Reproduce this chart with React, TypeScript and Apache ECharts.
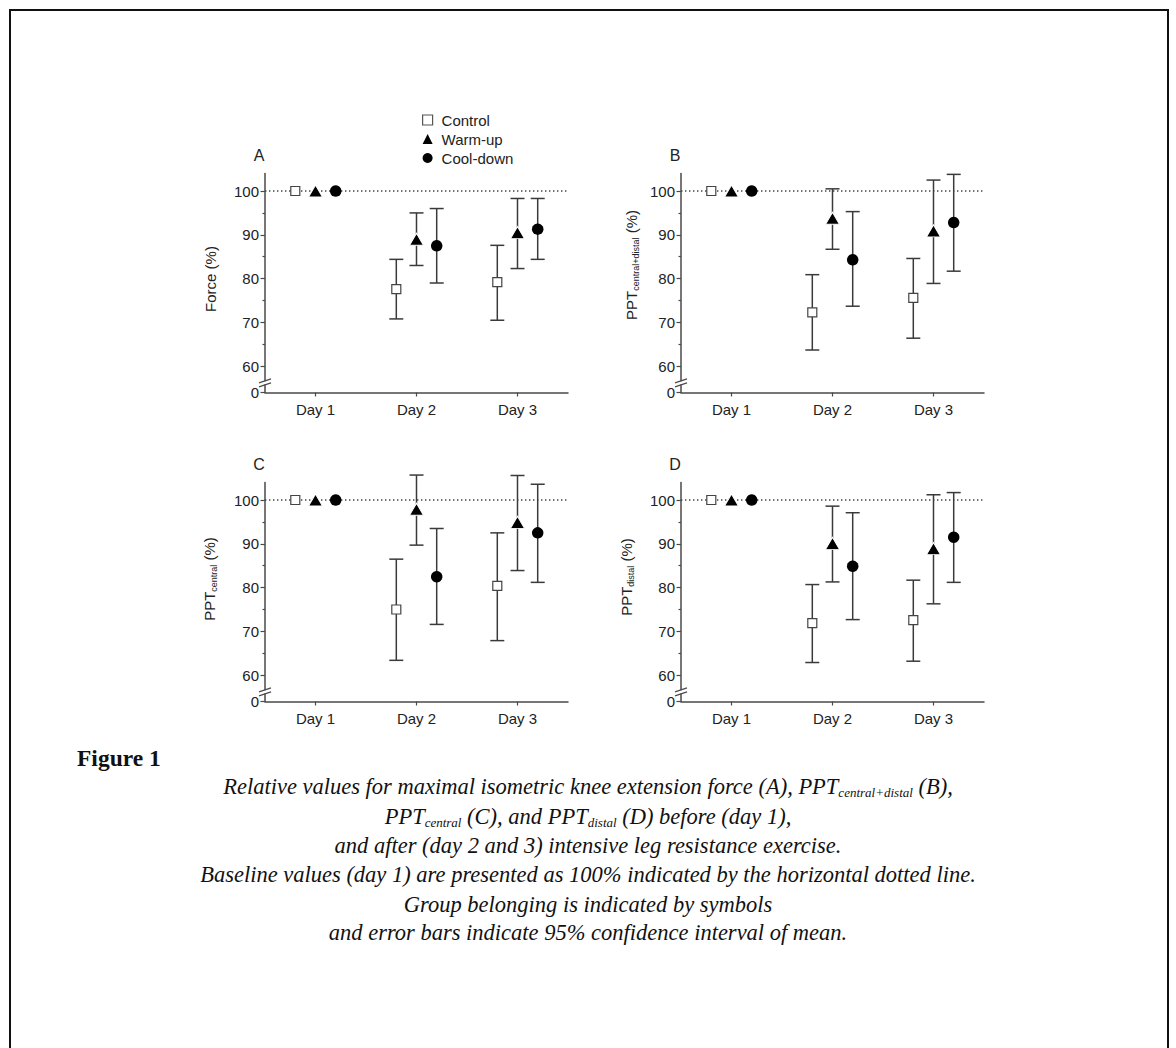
import React, { useEffect, useRef } from "react";
import * as echarts from "echarts";

const SANS = "'Liberation Sans', Arial, Helvetica, sans-serif";
const SERIF = "'Liberation Serif', 'Times New Roman', serif";

const dayLabels = ["Day 1", "Day 2", "Day 3"];
const dayValues = [1, 2, 3];
const groupNames = ["Control", "Warm-up", "Cool-down"];
const yTickValues = [60, 70, 80, 90, 100];
const yMinorTickValues = [65, 75, 85, 95];
const axisBottomValue = 54; // shown as "0" on the broken axis
const axisTopValue = 104;
const baselineValue = 100;
const breakValue = 56.2;

// Panel A – Force (%)   rows: Control, Warm-up, Cool-down ; cols: Day 1..3
const forceMean = [[100, 77.6, 79.2], [100, 89.0, 90.5], [100, 87.5, 91.3]];
const forceLow = [[null, 70.8, 70.5], [null, 83.0, 82.3], [null, 79.0, 84.4]];
const forceHigh = [[null, 84.4, 87.6], [null, 95.0, 98.3], [null, 96.0, 98.3]];

// Panel B – PPT central+distal (%)
const pptAllMean = [[100, 72.3, 75.6], [100, 93.8, 90.9], [100, 84.3, 92.8]];
const pptAllLow = [[null, 63.7, 66.4], [null, 86.7, 78.9], [null, 73.7, 81.7]];
const pptAllHigh = [[null, 80.9, 84.6], [null, 100.5, 102.5], [null, 95.3, 103.8]];

// Panel C – PPT central (%)
const pptCentralMean = [[100, 75.0, 80.4], [100, 97.9, 94.9], [100, 82.5, 92.5]];
const pptCentralLow = [[null, 63.4, 67.9], [null, 89.7, 83.9], [null, 71.6, 81.2]];
const pptCentralHigh = [[null, 86.5, 92.5], [null, 105.7, 105.6], [null, 93.5, 103.6]];

// Panel D – PPT distal (%)
const pptDistalMean = [[100, 71.9, 72.6], [100, 90.1, 88.9], [100, 84.9, 91.5]];
const pptDistalLow = [[null, 62.9, 63.2], [null, 81.3, 76.3], [null, 72.7, 81.2]];
const pptDistalHigh = [[null, 80.7, 81.7], [null, 98.6, 101.2], [null, 97.1, 101.7]];

const captionLines = [
  "{i|Relative values for maximal isometric knee extension force (A), PPT}{s|central+distal}{i| (B),}",
  "{i|PPT}{s|central}{i| (C), and PPT}{s|distal}{i| (D) before (day 1),}",
  "{i|and after (day 2 and 3) intensive leg resistance exercise.}",
  "{i|Baseline values (day 1) are presented as 100% indicated by the horizontal dotted line.}",
  "{i|Group belonging is indicated by symbols}",
  "{i|and error bars indicate 95% confidence interval of mean.}",
];

const AX = "#4a4a4a";
const TXT = "#222";

const panels = [
  { letter: "A", title: "{a|Force (%)}", left: 265, top: 173.5, mean: forceMean, low: forceLow, high: forceHigh, letterX: 259, letterY: 155, titleX: 210, titleY: 279 },
  { letter: "B", title: "{a|PPT}{s|central+distal}{a| (%)}", left: 681, top: 173.5, mean: pptAllMean, low: pptAllLow, high: pptAllHigh, letterX: 675, letterY: 155, titleX: 631, titleY: 265 },
  { letter: "C", title: "{a|PPT}{s|central}{a| (%)}", left: 265, top: 482.5, mean: pptCentralMean, low: pptCentralLow, high: pptCentralHigh, letterX: 259, letterY: 464, titleX: 209, titleY: 579 },
  { letter: "D", title: "{a|PPT}{s|distal}{a| (%)}", left: 681, top: 482.5, mean: pptDistalMean, low: pptDistalLow, high: pptDistalHigh, letterX: 675, letterY: 464, titleX: 626, titleY: 577 },
];

const groupOffsets = [-0.2, 0, 0.2];
const groupSymbols = ["rect", "triangle", "circle"];
const groupSizes: any[] = [9, [14, 12], 11.5];
const groupStyles = [
  { color: "#ffffff", borderColor: "#444", borderWidth: 1.2 },
  { color: "#000000", borderColor: "#ffffff", borderWidth: 1 },
  { color: "#000000" },
];
const legendStyles = [
  { color: "#ffffff", borderColor: "#555", borderWidth: 1.2 },
  { color: "#000000", borderWidth: 0 },
  { color: "#000000", borderWidth: 0 },
];

function buildOption() {
  const grid: any[] = [];
  const xAxis: any[] = [];
  const yAxis: any[] = [];
  const series: any[] = [];
  const graphic: any[] = [];

  graphic.push({
    type: "rect",
    shape: { x: 10, y: 10, width: 1158, height: 1200 },
    style: { fill: "none", stroke: "#111", lineWidth: 2 },
    z: 0,
  });

  panels.forEach((p, i) => {
    grid.push({ left: p.left, top: p.top, width: 303, height: 219 });
    xAxis.push({
      type: "value",
      gridIndex: i,
      min: 0.5,
      max: 3.5,
      axisLine: { show: true, onZero: false, lineStyle: { color: AX, width: 1.5 } },
      axisTick: { show: true, customValues: dayValues, length: 4, lineStyle: { color: AX, width: 1.2 } },
      axisLabel: {
        customValues: dayValues,
        formatter: (v: number) => dayLabels[Math.round(v) - 1],
        fontSize: 15,
        fontFamily: SANS,
        color: TXT,
        margin: 9,
      },
      splitLine: { show: false },
    });
    yAxis.push({
      type: "value",
      gridIndex: i,
      position: "left",
      offset: 0,
      min: axisBottomValue,
      max: axisTopValue,
      axisLine: { show: true, onZero: false, lineStyle: { color: AX, width: 1.5 } },
      axisTick: { show: true, customValues: [axisBottomValue, ...yTickValues], length: 4.5, lineStyle: { color: AX, width: 1.2 } },
      axisLabel: {
        customValues: [axisBottomValue, ...yTickValues],
        formatter: (v: number) => (v === axisBottomValue ? "0" : String(v)),
        fontSize: 15,
        fontFamily: SANS,
        color: TXT,
        margin: 6,
      },
      splitLine: { show: false },
    });
    yAxis.push({
      type: "value",
      gridIndex: i,
      position: "left",
      offset: 0,
      min: axisBottomValue,
      max: axisTopValue,
      axisLine: { show: false, onZero: false },
      axisTick: { show: true, customValues: yMinorTickValues, length: 2.5, lineStyle: { color: AX, width: 1.2 } },
      axisLabel: { show: false },
      splitLine: { show: false },
    });

    series.push({
      type: "line",
      xAxisIndex: i,
      yAxisIndex: 2 * i,
      data: [[0.5, baselineValue], [3.5, baselineValue]],
      symbol: "none",
      silent: true,
      lineStyle: { color: "#444", width: 1.4, type: [1.4, 2.6] },
      z: 1,
    });

    groupNames.forEach((g, gi) => {
      const errData: any[] = [];
      dayValues.forEach((d, di) => {
        const lo = p.low[gi][di];
        const hi = p.high[gi][di];
        if (lo != null && hi != null) errData.push([d + groupOffsets[gi], lo, hi]);
      });
      series.push({
        type: "custom",
        xAxisIndex: i,
        yAxisIndex: 2 * i,
        clip: false,
        silent: true,
        z: 2,
        encode: { x: 0, y: [1, 2] },
        data: errData,
        renderItem: (params: any, api: any) => {
          const x = api.value(0);
          const pLo = api.coord([x, api.value(1)]);
          const pHi = api.coord([x, api.value(2)]);
          const hw = 7;
          const st = { stroke: "#3a3a3a", lineWidth: 1.5, fill: "none" };
          return {
            type: "group",
            children: [
              { type: "line", shape: { x1: pLo[0], y1: pLo[1], x2: pHi[0], y2: pHi[1] }, style: st },
              { type: "line", shape: { x1: pLo[0] - hw, y1: pLo[1], x2: pLo[0] + hw, y2: pLo[1] }, style: st },
              { type: "line", shape: { x1: pHi[0] - hw, y1: pHi[1], x2: pHi[0] + hw, y2: pHi[1] }, style: st },
            ],
          };
        },
      });
      series.push({
        type: "scatter",
        name: g,
        xAxisIndex: i,
        yAxisIndex: 2 * i,
        symbol: groupSymbols[gi],
        symbolSize: groupSizes[gi],
        itemStyle: { ...groupStyles[gi], opacity: 1 },
        z: 3,
        data: dayValues.map((d, di) => [d + groupOffsets[gi], p.mean[gi][di]]),
      });
    });

    graphic.push({
      type: "text",
      x: p.letterX,
      y: p.letterY,
      style: { text: p.letter, fontSize: 16, fontFamily: SANS, fill: TXT, align: "center", verticalAlign: "middle" },
    });
    graphic.push({
      type: "text",
      x: p.titleX,
      y: p.titleY,
      rotation: Math.PI / 2,
      style: {
        text: p.title,
        align: "center",
        verticalAlign: "middle",
        fill: TXT,
        rich: {
          a: { fontSize: 15, fontFamily: SANS, fill: TXT, lineHeight: 18 },
          s: { fontSize: 9, fontFamily: SANS, fill: TXT, lineHeight: 9, verticalAlign: "bottom" },
        },
      },
    });
  });

  graphic.push({
    type: "text",
    x: 77,
    y: 758,
    style: { text: "Figure 1", fontSize: 23.5, fontWeight: "bold", fontFamily: SERIF, fill: "#111", align: "left", verticalAlign: "middle" },
  });
  const capY = [786, 816, 845, 874, 904, 932];
  captionLines.forEach((t, k) => {
    graphic.push({
      type: "text",
      x: 588,
      y: capY[k],
      style: {
        text: t,
        align: "center",
        verticalAlign: "middle",
        fill: "#111",
        rich: {
          i: { fontSize: 22.5, fontStyle: "italic", fontFamily: SERIF, fill: "#111", lineHeight: 26 },
          s: { fontSize: 13, fontStyle: "italic", fontFamily: SERIF, fill: "#111", lineHeight: 13, verticalAlign: "bottom" },
        },
      },
    });
  });

  return {
    animation: false,
    backgroundColor: "#ffffff",
    textStyle: { fontFamily: SANS },
    grid,
    xAxis,
    yAxis,
    series,
    graphic,
    legend: {
      orient: "vertical",
      left: 417,
      top: 107,
      itemWidth: 10,
      itemHeight: 10,
      itemGap: 3,
      selectedMode: false,
      data: groupNames.map((n, gi) => ({ name: n, icon: groupSymbols[gi], itemStyle: legendStyles[gi] })),
      textStyle: { fontSize: 15, fontFamily: SANS, color: TXT, lineHeight: 16, padding: [0, 0, 0, 4] },
    },
  };
}

export default function App() {
  const ref = useRef<HTMLDivElement>(null);
  useEffect(() => {
    if (!ref.current) return;
    const chart = echarts.init(ref.current, undefined, { renderer: "svg" });
    const option: any = buildOption();
    chart.setOption(option);
    // axis break marks on each y axis
    const extra: any[] = [];
    panels.forEach((p, i) => {
      const pt = chart.convertToPixel({ xAxisIndex: i, yAxisIndex: 2 * i } as any, [0.5, breakValue]) as any;
      if (!pt) return;
      const x = pt[0];
      const y = pt[1];
      extra.push({ type: "rect", shape: { x: x - 2, y: y - 1.6, width: 4, height: 3.2 }, style: { fill: "#fff" }, z: 10 });
      extra.push({ type: "line", shape: { x1: x - 6, y1: y, x2: x + 6, y2: y - 4 }, style: { stroke: AX, lineWidth: 1.2 }, z: 11 });
      extra.push({ type: "line", shape: { x1: x - 6, y1: y + 4, x2: x + 6, y2: y }, style: { stroke: AX, lineWidth: 1.2 }, z: 11 });
    });
    chart.setOption({ graphic: [...option.graphic, ...extra] });
    return () => chart.dispose();
  }, []);
  return (
    <div style={{ position: "fixed", left: 0, top: 0, width: 1176, height: 1048, background: "#fff", overflow: "hidden" }}>
      <div ref={ref} style={{ width: 1176, height: 1048 }} />
    </div>
  );
}
